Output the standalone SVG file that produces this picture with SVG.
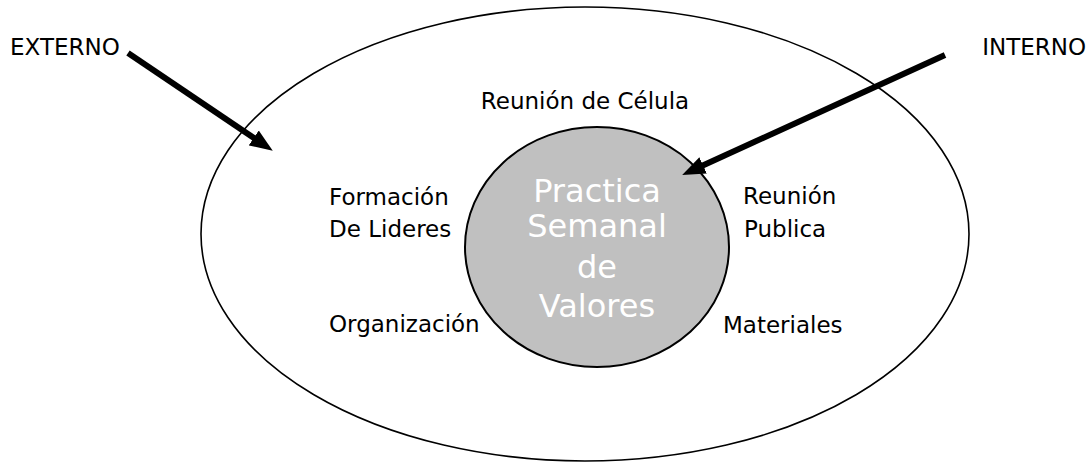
<svg xmlns="http://www.w3.org/2000/svg" width="1089" height="463" viewBox="0 0 1089 463">
  <style>
    .lbl { font-family: "DejaVu Sans", Verdana, sans-serif; font-size: 23px; fill: #000; }
    .core { font-family: "DejaVu Sans", Verdana, sans-serif; font-size: 32px; fill: #ffffff; text-anchor: middle; }
    .arrow { stroke: #000; stroke-width: 6; fill: none; marker-end: url(#head); }
  </style>
  <defs>
    <marker id="head" markerUnits="userSpaceOnUse" markerWidth="24" markerHeight="20" viewBox="0 0 24 20" refX="10" refY="10" orient="auto">
      <path d="M0,1 L23,10 L0,19 Z" fill="#000"/>
    </marker>
  </defs>
  <rect width="1089" height="463" fill="#fff"/>
  <g id="outer">
    <ellipse cx="585" cy="234" rx="384" ry="227" fill="none" stroke="#000" stroke-width="1.6"/>
  </g>
  <g id="core">
    <ellipse cx="597" cy="247" rx="132" ry="120" fill="#c0c0c0" stroke="#000" stroke-width="2"/>
    <text class="core" x="597" y="202">Practica</text>
    <text class="core" x="597" y="237">Semanal</text>
    <text class="core" x="597" y="278">de</text>
    <text class="core" x="597" y="317">Valores</text>
  </g>
  <g id="celula"><text class="lbl" x="585" y="109" text-anchor="middle">Reunión de Célula</text></g>
  <g id="formacion"><text class="lbl" x="329" y="205">Formación</text><text class="lbl" x="329" y="237">De Lideres</text></g>
  <g id="organizacion"><text class="lbl" x="329" y="332">Organización</text></g>
  <g id="publica"><text class="lbl" x="743" y="204">Reunión</text><text class="lbl" x="744" y="237">Publica</text></g>
  <g id="materiales"><text class="lbl" x="723" y="333">Materiales</text></g>
  <g id="externo"><text class="lbl" x="10" y="55">EXTERNO</text></g>
  <g id="interno"><text class="lbl" x="1086" y="55" text-anchor="end">INTERNO</text></g>
  <g id="connectors">
    <line class="arrow" x1="128" y1="53" x2="262" y2="143.5"/>
    <line class="arrow" x1="945" y1="55" x2="694" y2="169.5"/>
  </g>
</svg>
